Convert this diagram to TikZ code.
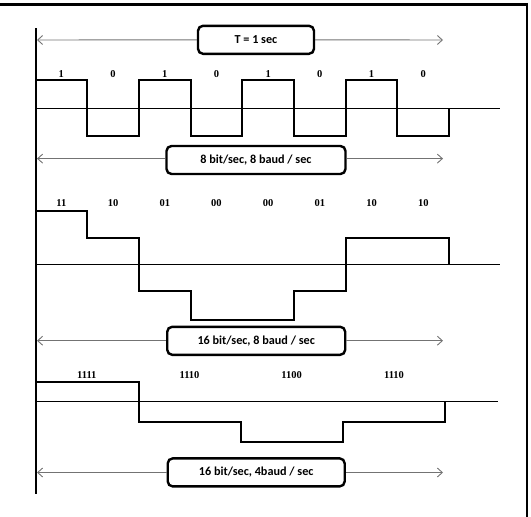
\documentclass[tikz,border=0pt]{standalone}
\usepackage{fontspec}
\setmainfont{Carlito}
\newfontfamily\bitfont{Liberation Serif}
\usetikzlibrary{arrows.meta}
\begin{document}
\begin{tikzpicture}[x=1pt,y=-1pt,
  lbox/.style={draw=black,line width=2.4pt,rounded corners=5pt,fill=white,
    minimum height=28pt,inner sep=0pt,font=\fontsize{12.2}{14}\selectfont\bfseries},
  span/.style={draw=black!55,line width=0.9pt},
  tipl/.style={{Straight Barb[length=5pt,width=9pt]}-},
  tipr/.style={-{Straight Barb[length=5pt,width=9pt]}},
  wave/.style={line width=2pt,line join=miter},
  zero/.style={line width=1.3pt},
  bit/.style={font=\bitfont\fontsize{10.5}{12}\selectfont\bfseries,inner sep=0pt}]
\useasboundingbox (0,0) rectangle (531,517);
% frame
\draw[line width=3.5pt] (0,4.5) -- (527,4.5);
\draw[line width=2pt] (527,2.75) -- (527,517);
% axis
\draw[line width=2pt] (35.5,28) -- (35.5,494);

% ---------- row 1 ----------
\node[lbox,minimum width=116pt] (b1) at (256,39.8) {T = 1 sec};
\coordinate (l1) at (37,40); \coordinate (r1) at (443,40);
\draw[span,tipl] (l1) -- (b1.west);
\draw[span,tipr] (b1.east) -- (r1);
\draw[zero] (35.5,108.7) -- (500,108.7);
\draw[wave] (35.5,80) -- (87.2,80) -- (87.2,136) -- (138.9,136) -- (138.9,80)
  -- (190.6,80) -- (190.6,136) -- (242.3,136) -- (242.3,80) -- (294,80)
  -- (294,136) -- (345.7,136) -- (345.7,80) -- (397.4,80) -- (397.4,136)
  -- (449.1,136) -- (449.1,108.7);
\foreach \t [count=\i from 0] in {1,0,1,0,1,0,1,0}
  \node[bit] (t1\i) at ({35.5+(\i+0.5)*51.7},74) {\t};
\node[lbox,minimum width=179pt] (b2) at (256,160) {8 bit/sec, 8 baud / sec};
\coordinate (l2) at (37,158.6); \coordinate (r2) at (443,158.6);
\draw[span,tipl] (l2) -- (b2.west|-l2);
\draw[span,tipr] (b2.east|-r2) -- (r2);

% ---------- row 2 ----------
\draw[zero] (35.5,264.6) -- (500,264.6);
\draw[wave] (35.5,210.6) -- (87.2,210.6) -- (87.2,237.7) -- (138.9,237.7)
  -- (138.9,291.4) -- (190.6,291.4) -- (190.6,320) -- (294,320) -- (294,291.4)
  -- (345.7,291.4) -- (345.7,237.7) -- (449.1,237.7) -- (449.1,264.6);
\foreach \t [count=\i from 0] in {11,10,01,00,00,01,10,10}
  \node[bit] (t2\i) at ({35.5+(\i+0.5)*51.7},203) {\t};
\node[lbox,minimum width=178pt] (b3) at (256.2,340.8) {16 bit/sec, 8 baud / sec};
\coordinate (l3) at (37,340.7); \coordinate (r3) at (443,340.7);
\draw[span,tipl] (l3) -- (b3.west|-l3);
\draw[span,tipr] (b3.east|-r3) -- (r3);

% ---------- row 3 ----------
\draw[zero] (35.5,401.8) -- (497.6,401.8);
\draw[wave] (35.5,382) -- (138.6,382) -- (138.6,421.9) -- (240.8,421.9)
  -- (240.8,442) -- (343,442) -- (343,421.9) -- (445,421.9) -- (445,401.8);
\node[bit] (t30) at (86.8,374.6) {1111};
\node[bit] (t31) at (189.5,374.6) {1110};
\node[bit] (t32) at (291.6,374.6) {1100};
\node[bit] (t33) at (394,374.6) {1110};
\node[lbox,minimum width=177pt] (b4) at (256.2,472.4) {16 bit/sec, 4baud / sec};
\coordinate (l4) at (37,472.5); \coordinate (r4) at (443,472.5);
\draw[span,tipl] (l4) -- (b4.west|-l4);
\draw[span,tipr] (b4.east|-r4) -- (r4);
\end{tikzpicture}
\end{document}
